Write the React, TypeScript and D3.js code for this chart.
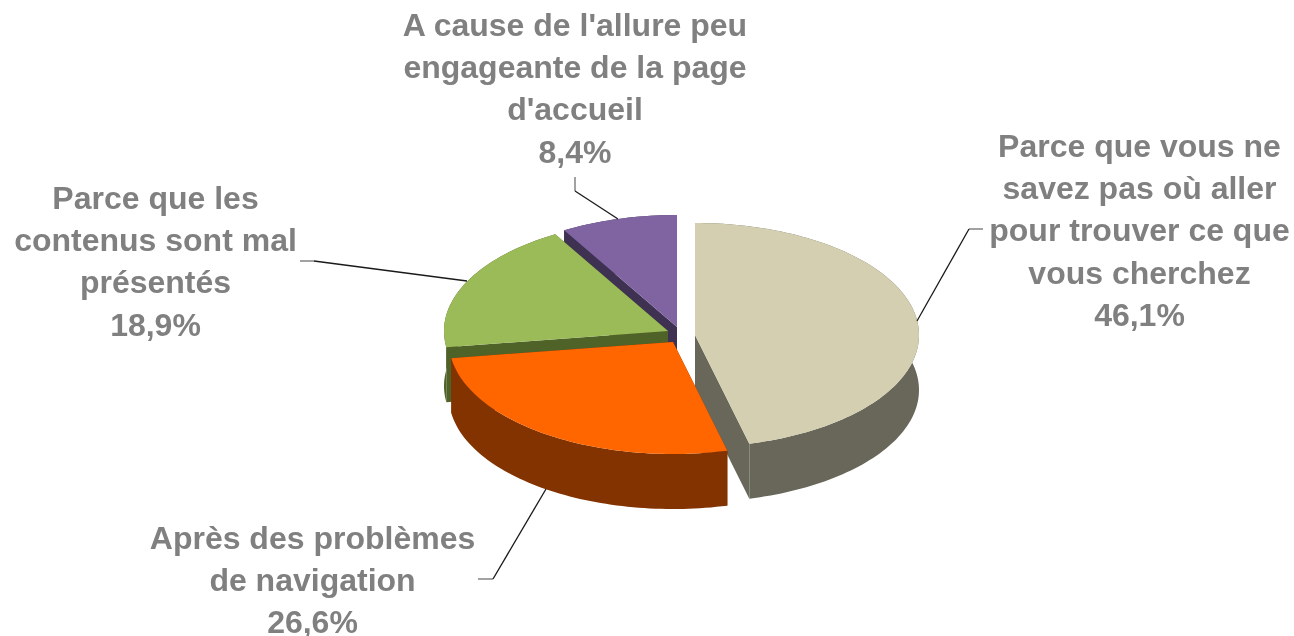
import React from "react";
import * as d3 from "d3";

const categories = [
  ["Parce que vous ne", "savez pas où aller", "pour trouver ce que", "vous cherchez"],
  ["Après des problèmes", "de navigation"],
  ["Parce que les", "contenus sont mal", "présentés"],
  ["A cause de l'allure peu", "engageante de la page", "d'accueil"],
];
const percentLabels = ["46,1%", "26,6%", "18,9%", "8,4%"];
const shares = [46.1, 26.6, 18.9, 8.4];
const topColors = ["#D3CFB0", "#FF6600", "#9BBB59", "#8064A2"];
const sideColors = ["#69675A", "#833300", "#4F6228", "#3F3151"];

// layout
const W = 1294, H = 636;
const RX = 224, RY = 112, DEPTH = 55;
const apex: [number, number][] = [[695, 335], [673, 342], [668, 331], [677, 327]];
const labelCenter: [number, number][] = [[1139.5, 157], [312.5, 549], [155.5, 209], [575, 36]];
const LINE_H = 42.2;
const leaders: [number, number][][] = [
  [[983, 229], [969, 229], [917, 321]],
  [[478, 579], [493, 579], [546, 489]],
  [[300, 261], [314, 261], [467, 281]],
  [[575, 177], [575, 191], [618, 219]],
];
const drawOrder = [3, 2, 0, 1];

const arcs = d3.pie<number>().sort(null).startAngle(0).endAngle(2 * Math.PI)(shares);

const x = d3.scaleLinear().domain([-1, 1]).range([-RX, RX]);
const y = d3.scaleLinear().domain([-1, 1]).range([-RY, RY]);
const line = d3.line();

function rim(i: number): [number, number][] {
  const a = arcs[i];
  const [cx, cy] = apex[i];
  const n = Math.max(4, Math.ceil((a.endAngle - a.startAngle) * 40));
  return d3.range(n + 1).map((k) => {
    const t = a.startAngle + ((a.endAngle - a.startAngle) * k) / n;
    return [cx + x(Math.sin(t)), cy + y(-Math.cos(t))] as [number, number];
  });
}
const down = (p: [number, number]): [number, number] => [p[0], p[1] + DEPTH];

export default function App() {
  return (
    <svg width={W} height={H} style={{ position: "absolute", left: 0, top: 0, background: "#fff" }}>
      <defs>
        <filter id="soft" x="0" y="0" width={W} height={H} filterUnits="userSpaceOnUse" colorInterpolationFilters="sRGB">
          <feGaussianBlur stdDeviation={0.35} />
        </filter>
      </defs>
      {drawOrder.map((i) => {
        const r = rim(i);
        const c = apex[i];
        const first = r[0];
        const last = r[r.length - 1];
        const wall = [...r, ...r.slice().reverse().map(down)];
        return (
          <g key={i}>
            <path d={line([c, first, down(first), down(c)])! + "Z"} fill={sideColors[i]} />
            <path d={line([c, last, down(last), down(c)])! + "Z"} fill={sideColors[i]} />
            <path d={line(wall)! + "Z"} fill={sideColors[i]} />
            <path d={line([c, ...r])! + "Z"} fill={topColors[i]} />
          </g>
        );
      })}
      {leaders.map((l, i) => (
        <g key={i}>
          <path d={line(l.slice(0, 2))!} fill="none" stroke="#707070" strokeWidth={1.3} />
          <path d={line(l.slice(1))!} fill="none" stroke="#1a1a1a" strokeWidth={1.3} />
        </g>
      ))}
      <g filter="url(#soft)">
        {categories.map((lines, i) => {
          const all = [...lines, percentLabels[i]];
          const [lx, ly] = labelCenter[i];
          return (
            <text key={i} fontFamily="'Liberation Sans', Arial, sans-serif" fontWeight="bold" fontSize={32} fill="#808080" textAnchor="middle">
              {all.map((t, k) => (
                <tspan key={k} x={lx} y={ly + k * LINE_H}>{t}</tspan>
              ))}
            </text>
          );
        })}
      </g>
    </svg>
  );
}
